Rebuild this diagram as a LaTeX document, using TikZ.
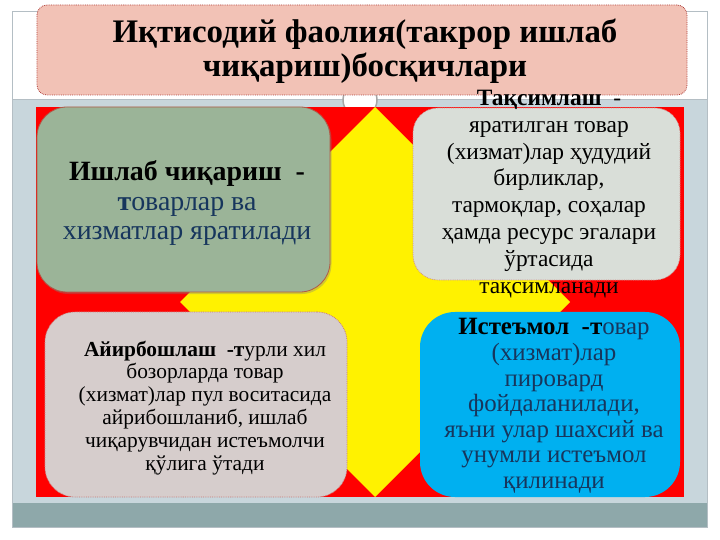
\documentclass[tikz,border=0pt]{standalone}
\usepackage{fontspec}
\setmainfont{Liberation Serif}
\usetikzlibrary{shadows}
\definecolor{bandlight}{HTML}{C8D6DC}
\definecolor{banddark}{HTML}{8EA8AA}
\definecolor{frameline}{HTML}{B4BEC4}
\definecolor{titlefill}{HTML}{F2C2B6}
\definecolor{titleedge}{HTML}{B0403C}
\definecolor{sage}{HTML}{9BB498}
\definecolor{lightgray}{HTML}{D9DED8}
\definecolor{pinkgray}{HTML}{D6CDCC}
\definecolor{skyblue}{HTML}{00B0F0}
\definecolor{navy}{HTML}{17365D}
\definecolor{boxedge}{HTML}{B05A48}
\tikzset{
  panel/.style={rounded corners=30bp, inner sep=0pt, line width=0.8bp},
  tshadow/.style={drop shadow={shadow xshift=1.5bp, shadow yshift=-2bp, opacity=0.35}},
  txt/.style={align=center, inner sep=0pt},
}
\begin{document}
\begin{tikzpicture}[x=1bp,y=-1bp]
\useasboundingbox (0,0) rectangle (720,540);
\fill[white] (0,0) rectangle (720,540);
% slide frame
\fill[bandlight] (12,100) rectangle (707,503);
\fill[banddark] (12,503) rectangle (707,527);
\draw[frameline, line width=1bp] (12,12) rectangle (707,527);
\draw[frameline, line width=1bp] (12,100) -- (707,100);
\node[circle, draw=gray!70, fill=white, line width=1.5bp, minimum size=34bp, inner sep=0pt] (ring) at (360,100) {};
% red ground and yellow diamond
\fill[red] (36,107) rectangle (684,497);
\fill[yellow] (375,107) -- (570,302) -- (375,497) -- (180,302) -- cycle;
% title
\node[panel, rounded corners=10bp, fill=titlefill, draw=titleedge, densely dotted, minimum width=650bp, minimum height=90bp] (title) at (362,50) {};
\node[txt, font=\fontsize{33}{34}\selectfont\bfseries] (titletext) at (365,51) {Иқтисодий фаолия(такрор ишлаб\\чиқариш)босқичлари};
% four panels
\node[panel, tshadow, fill=sage, draw=boxedge, minimum width=293bp, minimum height=185bp] (prod) at (183.5,199.5) {};
\node[panel, rounded corners=25bp, fill=lightgray, draw=titleedge!60, densely dotted, minimum width=267bp, minimum height=172bp] (dist) at (546.5,194) {};
\node[panel, fill=pinkgray, draw=titleedge!70, densely dotted, minimum width=302bp, minimum height=185bp] (exch) at (196,404.5) {};
\node[panel, rounded corners=35bp, fill=skyblue, draw=none, minimum width=260bp, minimum height=185bp] (cons) at (550,404.5) {};
% texts
\node[txt, font=\fontsize{28}{29.5}\selectfont] (prodtext) at (187,203) {\textbf{Ишлаб чиқариш\ \ -}\\{\color{navy}\textbf{т}оварлар ва}\\{\color{navy}хизматлар яратилади}};
\node[txt, font=\fontsize{23.5}{27}\selectfont] (disttext) at (549,194) {\textbf{Тақсимлаш}\ \ -\\яратилган товар\\(хизмат)лар ҳудудий\\бирликлар,\\тармоқлар, соҳалар\\ҳамда ресурс эгалари\\ўртасида\\тақсимланади};
\node[txt, font=\fontsize{21.5}{23}\selectfont] (exchtext) at (205,408) {\textbf{Айирбошлаш\ \ -т}урли хил\\бозорларда товар\\(хизмат)лар пул воситасида\\айрибошланиб, ишлаб\\чиқарувчидан истеъмолчи\\қўлига ўтади};
\node[txt, font=\fontsize{25}{25.7}\selectfont, text=navy] (constext) at (554,406) {{\color{black}\textbf{Истеъмол\ \ -т}}овар\\(хизмат)лар\\пировард\\фойдаланилади,\\яъни улар шахсий ва\\унумли истеъмол\\қилинади};
\end{tikzpicture}
\end{document}
